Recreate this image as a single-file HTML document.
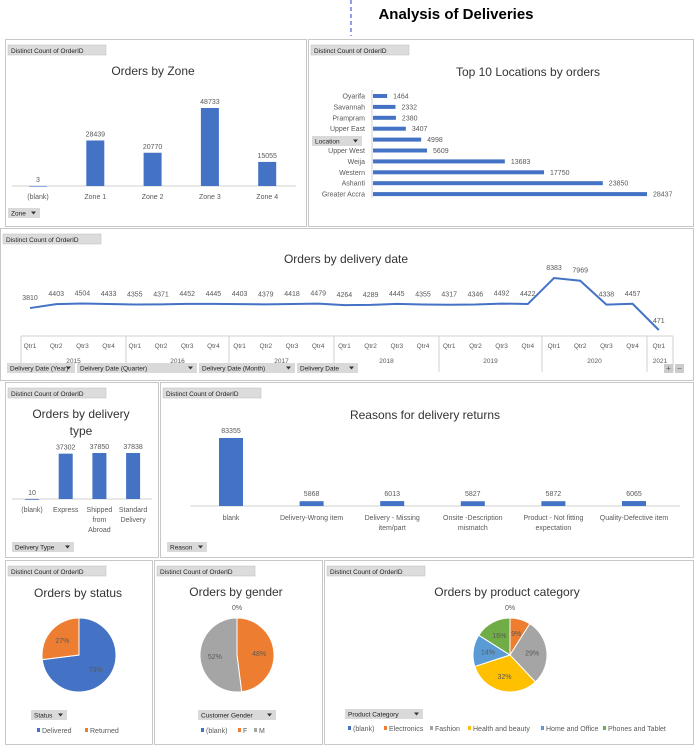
<!DOCTYPE html>
<html><head><meta charset="utf-8"><style>
body{margin:0;background:#fff;width:698px;height:746px;overflow:hidden;font-family:"Liberation Sans",sans-serif}
svg text{font-family:"Liberation Sans",sans-serif}
</style></head><body>
<svg id="s" width="698" height="746" xmlns="http://www.w3.org/2000/svg">
<line x1="351" y1="0" x2="351" y2="36" stroke="#1f3fd0" stroke-dasharray="4,3"/>
<text x="456" y="19" font-size="15" font-weight="bold" text-anchor="middle">Analysis of Deliveries</text>
</svg>
<script>
const zoneCats=["(blank)","Zone 1","Zone 2","Zone 3","Zone 4"];
const zoneVals=[3,28439,20770,48733,15055];
const locCats=["Oyarifa","Savannah","Prampram","Upper East","Volta","Upper West","Weija","Western","Ashanti","Greater Accra"];
const locVals=[1464,2332,2380,3407,4998,5609,13683,17750,23850,28437];
const dateVals=[3810,4403,4504,4433,4355,4371,4452,4445,4403,4379,4418,4479,4264,4289,4445,4355,4317,4346,4492,4422,8383,7969,4338,4457,471];
const years=["2015","2016","2017","2018","2019","2020","2021"];
const typeCats=[["(blank)"],["Express"],["Shipped","from","Abroad"],["Standard","Delivery"]];
const typeVals=[10,37302,37850,37838];
const reasonCats=[["blank"],["Delivery-Wrong item"],["Delivery - Missing","item/part"],["Onsite -Description","mismatch"],["Product - Not fitting","expectation"],["Quality-Defective item"]];
const reasonVals=[83355,5868,6013,5827,5872,6065];
const statusCats=["Delivered","Returned"];
const statusVals=[73,27];
const genderCats=["(blank)","F","M"];
const genderVals=[0,48,52];
const prodCats=["(blank)","Electronics","Fashion","Health and beauty","Home and Office","Phones and Tablet"];
const prodVals=[0,9,29,32,14,16];

const S=document.getElementById('s');const NS="http://www.w3.org/2000/svg";
function el(t,a,txt){const e=document.createElementNS(NS,t);for(const k in a)e.setAttribute(k,a[k]);if(txt!==undefined)e.textContent=txt;S.appendChild(e);return e;}
const BLUE="#4472C4",G="#595959";
function panel(x,y,w,h,name){const r=el('rect',{x:x+.5,y:y+.5,width:w,height:h,fill:"none",stroke:"#c8c8c8"});


const b=el('rect',{x:x+3,y:y+6,width:98,height:10,fill:"#dcdcdc",stroke:"#bbb","stroke-width":.5});


const t=el('text',{x:x+6,y:y+14,"font-size":6.5,fill:"#222"},"Distinct Count of OrderID");

}
function title(x,y,s,name){const t=el('text',{x:x,y:y,"font-size":12,"text-anchor":"middle",fill:"#333"},s);

}
function filt(x,y,w,s,name){const r=el('rect',{x:x,y:y,width:w,height:10,fill:"#d9d9d9"});


el('text',{x:x+3,y:y+7.5,"font-size":6.5,fill:"#222"},s);
el('path',{d:`M${x+w-9} ${y+3.5}h5l-2.5 3z`,fill:"#333"});}
function lbl(x,y,s,sz,anc,name){const t=el('text',{x:x,y:y,"font-size":sz||7,"text-anchor":anc||"middle",fill:G},s);

return t;}

// Zone chart
panel(5,39,301,187,'zone-panel');title(153,75,"Orders by Zone",'zone-title');
{const base=186,sc=78/48733;el('line',{x1:12,y1:base,x2:296,y2:base,stroke:"#d0d0d0"});
zoneCats.forEach((c,i)=>{const cx=38+i*57.3,h=zoneVals[i]*sc;
const b=el('rect',{x:cx-9,y:base-h,width:18,height:Math.max(h,.6),fill:BLUE});


lbl(cx,base-h-4,String(zoneVals[i]),7,'middle','zone-value');lbl(cx,199,c,7,'middle','zone-category');});
filt(8,208,32,"Zone",'zone-filter');}

// Locations
panel(308,39,385,187,'location-panel');title(528,76,"Top 10 Locations by orders",'location-title');
{const x0=373,sc=274/28437;el('line',{x1:372,y1:90,x2:372,y2:198,stroke:"#d0d0d0"});
locCats.forEach((c,i)=>{const y=96+i*10.9,w=locVals[i]*sc;
const b=el('rect',{x:x0,y:y-2,width:w,height:4,fill:BLUE});


lbl(x0+w+6,y+2.5,String(locVals[i]),7,'start','location-value');
if(i!==4)lbl(365,y+2.5,c,7,'end','location-category');});
filt(312,136,50,"Location",'location-filter');}

// Date line
panel(0,228,693,152,'date-panel');title(346,263,"Orders by delivery date",'date-title');
{const xs=i=>30+i*26.2,ys=v=>330-(v-471)*52/7912;
let d="";dateVals.forEach((v,i)=>{d+=(i?"L":"M")+xs(i)+" "+ys(v);});
const p=el('path',{d:d,fill:"none",stroke:BLUE,"stroke-width":2});


dateVals.forEach((v,i)=>{let ly=ys(v)-8;if(v<4600&&v>3000)ly=Math.min(ly,300);if(v<1000)ly=ys(v)-7;
lbl(xs(i)+(v<1000?0:0),ly,String(v),7,'middle','date-value');});
el('line',{x1:21,y1:336,x2:673,y2:336,stroke:"#d0d0d0"});
const bounds=[21,126,229,334,439,542,647,673];
bounds.forEach(b=>el('line',{x1:b,y1:336,x2:b,y2:372,stroke:"#d0d0d0"}));
dateVals.forEach((v,i)=>lbl(xs(i),348,"Qtr"+(i%4+1),6.5,'middle','quarter-label'));
years.forEach((y,i)=>lbl((bounds[i]+bounds[i+1])/2,363,y,6.5,'middle','year-label'));
filt(7,363,68,"Delivery Date (Year)",'year-filter');filt(77,363,120,"Delivery Date (Quarter)",'quarter-filter');
filt(199,363,96,"Delivery Date (Month)",'month-filter');filt(297,363,61,"Delivery Date",'date-filter');
const pl=el('rect',{x:664,y:364,width:9,height:9,fill:"#ccc"});
const mn=el('rect',{x:675,y:364,width:9,height:9,fill:"#ccc"});
lbl(668.5,371,"+",8,'middle','plus');lbl(679.5,371,"−",8,'middle','minus');}

// Delivery type
panel(5,382,153,175,'type-panel');title(81,418,"Orders by delivery",'type-title');title(81,435,"type",'type-title-2');
{const base=499,sc=46/37850;el('line',{x1:12,y1:base,x2:152,y2:base,stroke:"#d0d0d0"});
typeVals.forEach((v,i)=>{const cx=32+i*33.7,h=v*sc;
const b=el('rect',{x:cx-7,y:base-h,width:14,height:Math.max(h,.8),fill:BLUE});


lbl(cx,base-h-4,String(v),7,'middle','type-value');
typeCats[i].forEach((s,j)=>lbl(cx,512+j*10,s,7,'middle','type-category'));});
filt(12,542,62,"Delivery Type",'type-filter');}

// Reasons
panel(160,382,533,175,'reason-panel');title(425,419,"Reasons for delivery returns",'reason-title');
{const base=506,sc=68/83355;el('line',{x1:190,y1:base,x2:680,y2:base,stroke:"#d0d0d0"});
reasonVals.forEach((v,i)=>{const cx=231+i*80.6,h=v*sc;
const b=el('rect',{x:cx-12,y:base-h,width:24,height:h,fill:BLUE});


lbl(cx,base-h-5,String(v),7,'middle','reason-value');
reasonCats[i].forEach((s,j)=>lbl(cx,520+j*10,s,7,'middle','reason-category'));});
filt(167,542,40,"Reason",'reason-filter');}

// Pies
function pie(cx,cy,r,vals,cols,name,labelPos){let a=-Math.PI/2;const tot=vals.reduce((s,v)=>s+v,0);
vals.forEach((v,i)=>{const ang=v/tot*2*Math.PI;if(v>0){const a2=a+ang;
const x1=cx+r*Math.cos(a),y1=cy+r*Math.sin(a),x2=cx+r*Math.cos(a2),y2=cy+r*Math.sin(a2);
const p=el('path',{d:`M${cx} ${cy}L${x1} ${y1}A${r} ${r} 0 ${ang>Math.PI?1:0} 1 ${x2} ${y2}Z`,fill:cols[i],stroke:"#fff","stroke-width":1});


const m=a+ang/2;lbl(cx+r*.6*Math.cos(m),cy+r*.6*Math.sin(m)+2.5,v+"%",7,'middle','slice-label');}
else lbl(cx,cy-r-8,"0%",7,'middle','slice-label');
a+=ang;});}
function legend(x,y,cats,cols,gaps){let xx=x;cats.forEach((c,i)=>{el('rect',{x:xx,y:y-5,width:3,height:4,fill:cols[i]});
lbl(xx+5,y,c,7,'start','legend-entry');xx+=gaps[i];});}

panel(5,560,147,184,'status-panel');title(78,597,"Orders by status",'status-title');
// status: delivered clockwise from top, returned counter
{let a=-Math.PI/2;}
pie(79,655,37,statusVals,[BLUE,"#ED7D31"],'status-slice');
filt(31,710,36,"Status",'status-filter');
legend(37,733,statusCats,[BLUE,"#ED7D31"],[48,40]);

panel(154,560,168,184,'gender-panel');title(236,596,"Orders by gender",'gender-title');
pie(237,655,37,genderVals,[BLUE,"#ED7D31","#A5A5A5"],'gender-slice');
filt(198,710,78,"Customer Gender",'gender-filter');
legend(201,733,genderCats,[BLUE,"#ED7D31","#A5A5A5"],[37,16,16]);

panel(324,560,369,184,'product-panel');title(507,596,"Orders by product category",'product-title');
pie(510,655,37,prodVals,[BLUE,"#ED7D31","#A5A5A5","#FFC000","#5B9BD5","#70AD47"],'product-slice');
filt(345,709,78,"Product Category",'product-filter');
legend(348,731,prodCats,[BLUE,"#ED7D31","#A5A5A5","#FFC000","#5B9BD5","#70AD47"],[36,46,38,73,62,60]);
</script>
</body></html>
